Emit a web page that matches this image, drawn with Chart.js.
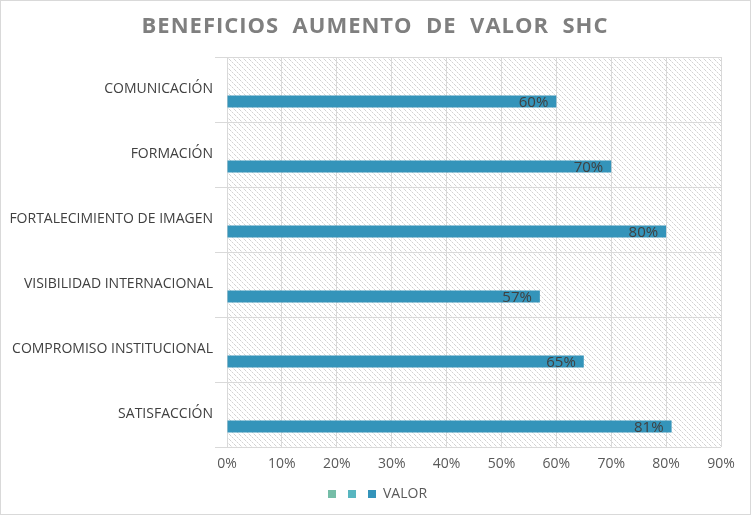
<!DOCTYPE html>
<html lang="es">
<head>
  <meta charset="UTF-8" />
  <title>Beneficios aumento de valor SHC</title>
  <script src="https://cdn.jsdelivr.net/npm/chart.js"></script>
  <style>
    html, body {
      margin: 0;
      padding: 0;
      background: #fff;
    }
    #wrap {
      width: 751px;
      height: 515px;
    }
  </style>
</head>
<body>
  <div id="wrap"><canvas id="chart" width="751" height="515"></canvas></div>

  <script>
    const categories = [
      'COMUNICACIÓN',
      'FORMACIÓN',
      'FORTALECIMIENTO DE IMAGEN',
      'VISIBILIDAD INTERNACIONAL',
      'COMPROMISO INSTITUCIONAL',
      'SATISFACCIÓN'
    ];
    const serie1 = [null, null, null, null, null, null];
    const serie2 = [null, null, null, null, null, null];
    const valor = [0.60, 0.70, 0.80, 0.57, 0.65, 0.81];
    const xTicks = [0, 0.1, 0.2, 0.3, 0.4, 0.5, 0.6, 0.7, 0.8, 0.9];

    const FONT = "'Open Sans', 'DejaVu Sans', sans-serif";

    // diagonal hatch for plot background
    function makeHatch() {
      const c = document.createElement('canvas');
      c.width = 5; c.height = 5;
      const g = c.getContext('2d');
      g.fillStyle = '#fff';
      g.fillRect(0, 0, 5, 5);
      g.fillStyle = '#d2d2d2';
      g.fillRect(0, 0, 1, 1);
      g.fillRect(2, 2, 1, 1);
      g.fillRect(4, 4, 1, 1);
      g.fillStyle = '#ececec';
      g.fillRect(1, 1, 1, 1);
      g.fillRect(3, 3, 1, 1);
      return c;
    }

    const background = {
      id: 'background',
      beforeDraw(chart) {
        const { ctx, chartArea: a } = chart;
        // nudge legend to the right like the original
        if (!chart.legend._shifted) {
          chart.legend.left += 17;
          chart.legend.right += 17;
          chart.legend._shifted = true;
        }
        ctx.save();
        ctx.fillStyle = '#fff';
        ctx.fillRect(0, 0, chart.width, chart.height);
        ctx.fillStyle = ctx.createPattern(makeHatch(), 'repeat');
        ctx.fillRect(a.left, a.top, a.right - a.left, a.bottom - a.top);
        ctx.strokeStyle = '#d9d9d9';
        ctx.lineWidth = 1;
        ctx.strokeRect(0.5, 0.5, chart.width - 1, chart.height - 1);
        // title
        ctx.fillStyle = '#7f7f7f';
        ctx.font = "bold 22px " + FONT;
        ctx.letterSpacing = '1px';
        ctx.textAlign = 'center';
        ctx.textBaseline = 'middle';
        ctx.fillText('BENEFICIOS  AUMENTO  DE  VALOR  SHC', 375, 27);
        ctx.restore();
      }
    };

    const valueLabels = {
      id: 'valueLabels',
      afterDatasetsDraw(chart) {
        const ctx = chart.ctx;
        const meta = chart.getDatasetMeta(2);
        ctx.save();
        ctx.font = "15px " + FONT;
        ctx.fillStyle = '#404040';
        ctx.textAlign = 'right';
        ctx.textBaseline = 'middle';
        meta.data.forEach((bar, i) => {
          ctx.fillText(Math.round(valor[i] * 100) + '%', bar.x - 8, bar.y + 1);
        });
        ctx.restore();
      }
    };

    new Chart(document.getElementById('chart'), {
      type: 'bar',
      data: {
        labels: categories,
        datasets: [
          { label: '', data: serie1, backgroundColor: '#75bda7' },
          { label: '', data: serie2, backgroundColor: '#58b6c0' },
          { label: 'VALOR', data: valor, backgroundColor: '#3494ba' }
        ]
      },
      options: {
        indexAxis: 'y',
        responsive: false,
        animation: false,
        categoryPercentage: 0.554,
        barPercentage: 1,
        layout: { padding: { top: 57, right: 30, left: 0, bottom: 4 } },
        plugins: {
          title: { display: false },
          tooltip: { enabled: false },
          legend: {
            position: 'bottom',
            labels: {
              boxWidth: 8,
              boxHeight: 8,
              padding: 5,
              color: '#595959',
              font: { family: FONT, size: 14 }
            }
          }
        },
        scales: {
          x: {
            min: 0,
            max: 0.9,
            afterBuildTicks(scale) {
              scale.ticks = xTicks.map(v => ({ value: v }));
            },
            afterFit(scale) { scale.height = 35; },
            grid: { color: '#d9d9d9', drawTicks: false },
            border: { display: false },
            ticks: {
              padding: 9,
              color: '#595959',
              font: { family: FONT, size: 14 },
              callback: v => Math.round(v * 100) + '%'
            }
          },
          y: {
            afterFit(scale) { scale.width = 227; },
            grid: { color: '#d9d9d9', offset: true, tickLength: 12 },
            border: { color: '#d9d9d9' },
            ticks: {
              padding: 2,
              color: '#404040',
              font: { family: FONT, size: 14 }
            }
          }
        }
      },
      plugins: [background, valueLabels]
    });
  </script>
</body>
</html>
